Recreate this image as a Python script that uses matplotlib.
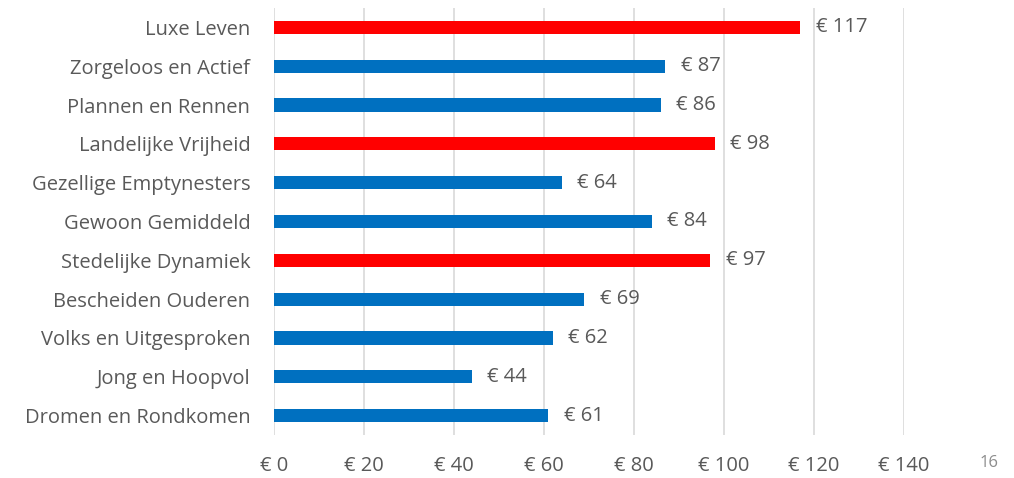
import matplotlib.pyplot as plt

plt.rcParams['font.family'] = ['Open Sans', 'DejaVu Sans']

segmenten = ['Luxe Leven', 'Zorgeloos en Actief', 'Plannen en Rennen', 'Landelijke Vrijheid',
             'Gezellige Emptynesters', 'Gewoon Gemiddeld', 'Stedelijke Dynamiek',
             'Bescheiden Ouderen', 'Volks en Uitgesproken', 'Jong en Hoopvol', 'Dromen en Rondkomen']
bedragen = [117, 87, 86, 98, 64, 84, 97, 69, 62, 44, 61]
uitgelicht = ['Luxe Leven', 'Landelijke Vrijheid', 'Stedelijke Dynamiek']
x_ticks = [0, 20, 40, 60, 80, 100, 120, 140]

tekst = '#595959'
kleuren = ['#FF0000' if s in uitgelicht else '#0070C0' for s in segmenten]

fig = plt.figure(figsize=(10.14, 4.78), dpi=100)
ax = fig.add_axes([0.2702, 0.090, 0.6213, 0.8933])

pos = list(range(len(segmenten)))
ax.barh(pos, bedragen, height=0.34, color=kleuren, zorder=3)
ax.set_ylim(len(segmenten) - 0.5, -0.5)
ax.set_xlim(0, 140)

for p, v in zip(pos, bedragen):
    ax.annotate(f'€ {v}', (v, p), xytext=(11, 0), textcoords='offset points',
                va='center', ha='left', fontsize=14.5, color=tekst)

ax.set_yticks(pos)
ax.set_yticklabels(segmenten, fontsize=14.5, color=tekst)
ax.set_xticks(x_ticks)
ax.set_xticklabels([f'€ {t}' for t in x_ticks], fontsize=14.5, color=tekst)
ax.tick_params(axis='both', length=0)
ax.tick_params(axis='y', pad=17)
ax.tick_params(axis='x', pad=15)

ax.grid(axis='x', color='#D9D9D9', linewidth=1.2, zorder=0)
for s in ax.spines.values():
    s.set_visible(False)

fig.text(0.985, 0.015, '16', fontsize=12, color='#8C8C8C', ha='right', va='bottom')

fig.savefig('out.png', dpi=100)
